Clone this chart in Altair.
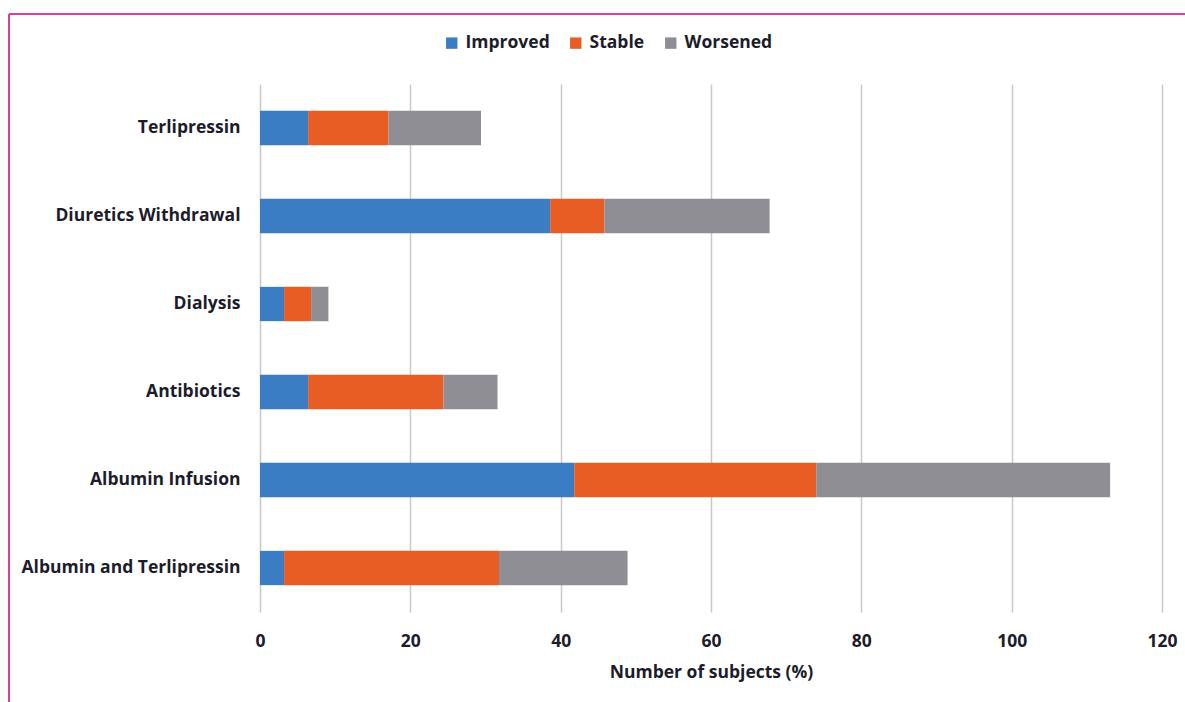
import altair as alt
import pandas as pd

treatments = ["Terlipressin", "Diuretics Withdrawal", "Dialysis", "Antibiotics",
              "Albumin Infusion", "Albumin and Terlipressin"]
statuses = ["Improved", "Stable", "Worsened"]
improved = [6.4, 38.6, 3.2, 6.4, 41.8, 3.2]
stable = [10.7, 7.2, 3.6, 18.0, 32.2, 28.6]
worsened = [12.3, 22.0, 2.3, 7.2, 39.1, 17.1]
colors = ["#3A7DC3", "#E85D24", "#8F8E95"]
x_ticks = [0, 20, 40, 60, 80, 100, 120]

rows = []
for i, t in enumerate(treatments):
    for k, (s, vals) in enumerate(zip(statuses, [improved, stable, worsened])):
        rows.append({"Treatment": t, "Status": s, "Value": vals[i], "rank": k})
df = pd.DataFrame(rows)

FONT = "Open Sans"
TXT = "#1c1c2b"
FS = 17.5
W, H = 902, 528

bars = alt.Chart(df).mark_bar().encode(
    y=alt.Y("Treatment:N", sort=treatments,
            scale=alt.Scale(paddingInner=0.61, paddingOuter=0.305),
            axis=alt.Axis(title=None, ticks=False, domain=False, labelPadding=20,
                          labelFontSize=FS, labelFontWeight="bold", labelColor=TXT,
                          labelFont=FONT, grid=False, labelLimit=400)),
    x=alt.X("Value:Q", stack="zero",
            scale=alt.Scale(domain=[0, 120], nice=False),
            axis=alt.Axis(values=x_ticks, title="Number of subjects (%)", ticks=False,
                          domain=False, grid=True, gridColor="#c9c9c9", gridWidth=1.5,
                          labelFlush=False, labelOverlap=False,
                          labelPadding=20, labelFontSize=FS, labelFontWeight="bold",
                          labelColor=TXT, labelFont=FONT, titleFont=FONT,
                          titleFontSize=FS, titleFontWeight="bold", titleColor=TXT,
                          titlePadding=14)),
    color=alt.Color("Status:N", sort=statuses,
                    scale=alt.Scale(domain=statuses, range=colors),
                    legend=alt.Legend(title=None, orient="none", direction="horizontal",
                                      legendX=183, legendY=-50, symbolType="square",
                                      symbolSize=130, symbolStrokeWidth=0,
                                      labelFontSize=FS, labelFontWeight="bold",
                                      labelColor=TXT, labelFont=FONT, labelOffset=5,
                                      columnPadding=17)),
    order=alt.Order("rank:Q"),
)

frame_df = pd.DataFrame({"k": [0]})
top_line = alt.Chart(frame_df).mark_rule(color="#E03C9C", strokeWidth=2).encode(
    x=alt.value(-251), x2=alt.value(W + 40), y=alt.value(-70))
left_line = alt.Chart(frame_df).mark_rule(color="#E03C9C", strokeWidth=2).encode(
    x=alt.value(-251), y=alt.value(-70), y2=alt.value(H + 100))

chart = alt.layer(bars, top_line, left_line).properties(
    width=W, height=H,
    autosize=alt.AutoSizeParams(type="none"),
    padding={"left": 260, "top": 84, "right": 23, "bottom": 90},
).configure(background="white").configure_view(stroke=None)

chart.save("out.html", embed_options={"renderer": "svg", "actions": False})
